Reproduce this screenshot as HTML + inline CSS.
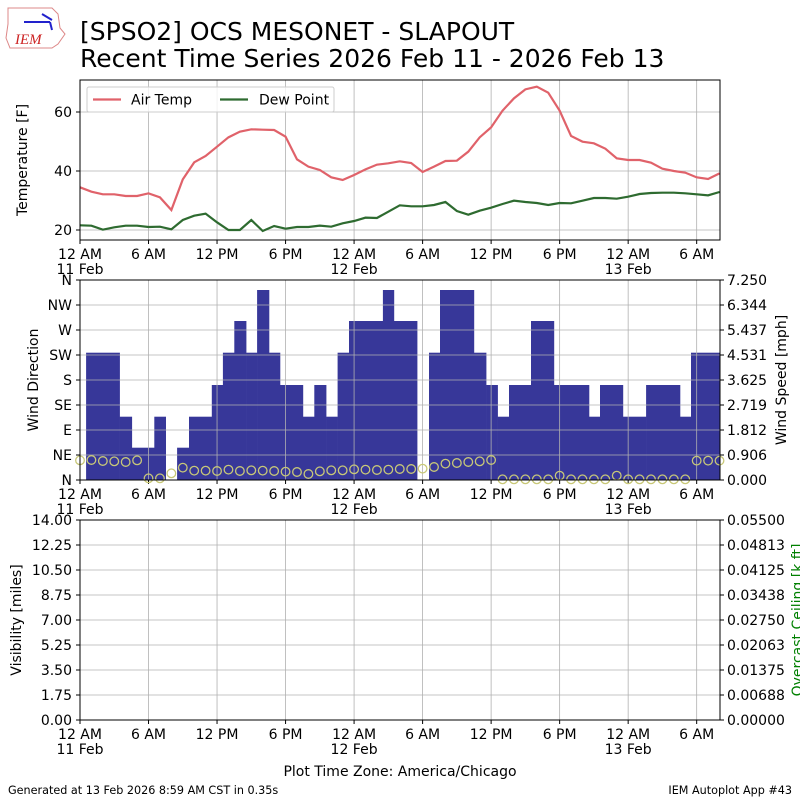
<!DOCTYPE html>
<html><head><meta charset="utf-8"><style>
body{margin:0;background:#fff;width:800px;height:800px;overflow:hidden}
svg{display:block;font-family:"DejaVu Sans","Liberation Sans",sans-serif}
</style></head><body>
<svg id="s" width="800" height="800" xmlns="http://www.w3.org/2000/svg">
<rect width="800" height="800" fill="#fff"/>
<g>
<path d="M8,8 L52,8 L58,14 L60,28 L65,34 L58,44 L52,48 L10,48 L6,38 L8,24 Z" fill="none" stroke="#d88" stroke-width="1"/>
<line x1="24" y1="22" x2="50" y2="22" stroke="#22c" stroke-width="2"/>
<line x1="42" y1="14" x2="52" y2="20" stroke="#22c" stroke-width="2"/>
<line x1="50" y1="22" x2="52" y2="30" stroke="#22c" stroke-width="2"/>
<text x="15" y="44" font-family="Liberation Serif,serif" font-style="italic" font-size="15" fill="#c22">IEM</text>
</g>
<text x="80" y="40" font-size="25">[SPSO2] OCS MESONET - SLAPOUT</text>
<text x="80" y="67" font-size="25">Recent Time Series 2026 Feb 11 - 2026 Feb 13</text>
<g id="g"></g>
<text x="8" y="794" font-size="11.2">Generated at 13 Feb 2026 8:59 AM CST in 0.35s</text>
<text x="792" y="794" font-size="11.2" text-anchor="end">IEM Autoplot App #43</text>
</svg>
<script>
const g=document.getElementById('g');let h='';
const X=hr=>80+hr*11.42;
const FS=14;
const xt=[0,6,12,18,24,30,36,42,48,54],xl=['12 AM','6 AM','12 PM','6 PM','12 AM','6 AM','12 PM','6 PM','12 AM','6 AM'];
function xaxis(top,bot){
 xt.forEach((t,i)=>{const x=X(t);h+=`<line x1="${x}" y1="${top}" x2="${x}" y2="${bot}" stroke="#b0b0b0" stroke-width="0.8"/>`;
 h+=`<line x1="${x}" y1="${bot}" x2="${x}" y2="${bot+4}" stroke="#000"/>`;
 h+=`<text x="${x}" y="${bot+19}" font-size="${FS}" text-anchor="middle">${xl[i]}</text>`;});
 [['11 Feb',0],['12 Feb',24],['13 Feb',48]].forEach(d=>h+=`<text x="${X(d[1])}" y="${bot+34}" font-size="${FS}" text-anchor="middle">${d[0]}</text>`);
}
function hgrid(ys){ys.forEach(y=>h+=`<line x1="80" y1="${y}" x2="720" y2="${y}" stroke="#b0b0b0" stroke-width="0.8"/>`);}
function ylab(ys,labs,side){ys.forEach((y,i)=>{if(side=='l'){h+=`<line x1="76" y1="${y}" x2="80" y2="${y}" stroke="#000"/><text x="72" y="${y+5}" font-size="${FS}" text-anchor="end">${labs[i]}</text>`}else{h+=`<line x1="720" y1="${y}" x2="724" y2="${y}" stroke="#000"/><text x="727" y="${y+5}" font-size="${FS}">${labs[i]}</text>`}});}
function frame(top,bot){h+=`<rect x="80" y="${top}" width="640" height="${bot-top}" fill="none" stroke="#000" stroke-width="1"/>`;}
let tz=[322,335,343,343,348,348,340,352,390,298,247,228,200,172,155,148,149,150,170,238,260,270,292,300,285,268,254,250,244,249,276,260,243,242,215,172,142,92,55,28,20,38,92,168,185,190,206,235,240,240,248,266,273,278,292,297,280];
let dz=[436,437,449,442,437,437,441,440,448,420,407,401,427,450,450,420,453,438,446,441,441,437,440,430,423,413,414,395,376,379,379,375,366,393,404,392,383,372,362,366,369,375,369,370,362,354,354,356,350,342,339,338,338,340,343,346,336];
const ty=[230,171,112];hgrid(ty);xaxis(80,240);
h+=`<polyline fill="none" stroke="#e0626a" stroke-width="2.2" points="${tz.map((z,i)=>X(i)+','+(80+z/3)).join(' ')}"/>`;
h+=`<polyline fill="none" stroke="#2e6b30" stroke-width="2.2" points="${dz.map((z,i)=>X(i)+','+(80+z/3)).join(' ')}"/>`;
ylab(ty,['20','40','60'],'l');frame(80,240);
h+=`<rect x="87" y="87" width="247" height="25" fill="#fff" fill-opacity="0.8" stroke="#ccc" rx="2"/>`;
h+=`<line x1="93" y1="99.5" x2="121" y2="99.5" stroke="#e0626a" stroke-width="2.2"/><text x="131" y="104.5" font-size="${FS}">Air Temp</text>`;
h+=`<line x1="220" y1="99.5" x2="248" y2="99.5" stroke="#2e6b30" stroke-width="2.2"/><text x="259" y="104.5" font-size="${FS}">Dew Point</text>`;
h+=`<text transform="translate(27,160) rotate(-90)" font-size="${FS}" text-anchor="middle">Temperature [F]</text>`;
const bx=[6.1,39.6,51.8,74.3,85.7,97.1,109,131.8,142.9,154.3,166.1,177.1,189,200,222.9,234.3,246.1,257.6,269,302.9,313.9,337.1,349,360,393.9,406.1,417.6,429,451,473.9,509,520,542.9,566.1,600,611,640];
const bt=[352.7,416.7,447.7,416.7,null,447.7,416.7,385,352.7,321,352.7,290,352.7,385,416.7,385,416.7,352.7,321,290,321,null,352.7,290,352.7,385,416.7,385,321,385,416.7,385,416.7,385,416.7,352.7];
for(let i=0;i<bt.length;i++){if(bt[i]==null)continue;h+=`<rect x="${80+bx[i]}" y="${bt[i]}" width="${bx[i+1]-bx[i]+0.3}" height="${480-bt[i]}" fill="#373799"/>`;}
const wy=[480,455,430,405,380,355,330,305,280];hgrid(wy);xaxis(280,480);
const cz=[541,540,543,544,546,541,595,595,580,563,572,572,573,569,573,571,572,573,575,576,582,574,571,571,568,569,570,569,567,567,566,561,551,549,546,544,540];
for(let i=0;i<57;i++){let z=i<cz.length?cz[i]:(i>=54?542:(i==42||i==47?587:598));h+=`<circle cx="${X(i)}" cy="${280+z/3}" r="4.3" fill="none" stroke="#c8c878" stroke-width="1.3"/>`;}
ylab(wy,['N','NE','E','SE','S','SW','W','NW','N'],'l');
ylab(wy,['0.000','0.906','1.812','2.719','3.625','4.531','5.437','6.344','7.250'],'r');frame(280,480);
h+=`<text transform="translate(38,380) rotate(-90)" font-size="${FS}" text-anchor="middle">Wind Direction</text>`;
h+=`<text transform="translate(786,380) rotate(-90)" font-size="${FS}" text-anchor="middle">Wind Speed [mph]</text>`;
const vy=[720,695,670,645,620,595,570,545,520];hgrid(vy);xaxis(520,720);
ylab(vy,['0.00','1.75','3.50','5.25','7.00','8.75','10.50','12.25','14.00'],'l');
ylab(vy,['0.00000','0.00688','0.01375','0.02063','0.02750','0.03438','0.04125','0.04813','0.05500'],'r');frame(520,720);
h+=`<text transform="translate(21,620) rotate(-90)" font-size="${FS}" text-anchor="middle">Visibility [miles]</text>`;
h+=`<text transform="translate(802,620) rotate(-90)" font-size="${FS}" text-anchor="middle" fill="green">Overcast Ceiling [k ft]</text>`;
h+=`<text x="400" y="776" font-size="${FS}" text-anchor="middle">Plot Time Zone: America/Chicago</text>`;
g.innerHTML=h;
</script>
</body></html>
